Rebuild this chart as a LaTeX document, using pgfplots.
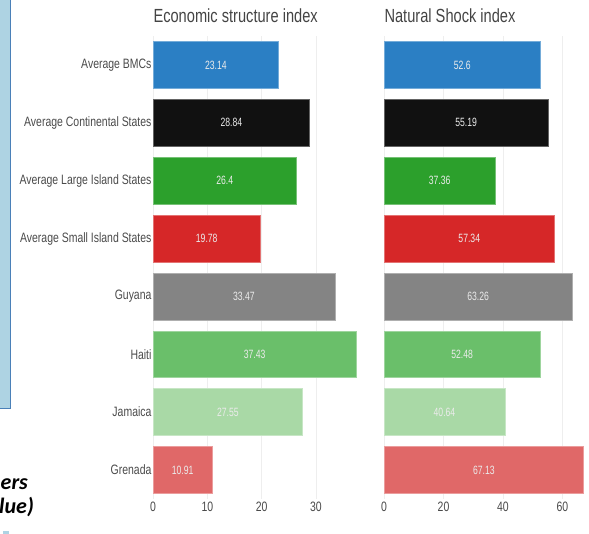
\documentclass[border=0pt]{standalone}
\usepackage{fontspec}
\setmainfont[FakeStretch=0.77]{Liberation Sans}
\newfontfamily\valfont[FakeStretch=0.72]{Liberation Sans}
\newfontfamily\calib{Carlito}
\usepackage{pgfplots}
\usepackage{pgfplotstable}
\pgfplotsset{compat=1.18}
\definecolor{cBlue}{HTML}{2B7FC4}
\definecolor{cBlack}{HTML}{111111}
\definecolor{cGreen}{HTML}{2CA02C}
\definecolor{cRed}{HTML}{D62728}
\definecolor{cGray}{HTML}{848484}
\definecolor{cHaiti}{HTML}{6ABF6A}
\definecolor{cJam}{HTML}{A9D9A6}
\definecolor{cGren}{HTML}{E06868}
\definecolor{gridc}{HTML}{EEEEEE}
\definecolor{labc}{HTML}{4A4A4A}
\definecolor{titc}{HTML}{444444}
\definecolor{boxfill}{HTML}{AED3E3}
\definecolor{boxline}{HTML}{4A80B8}

\pgfplotstableread{
y v
0 23.14
1 28.84
2 26.4
3 19.78
4 33.47
5 37.43
6 27.55
7 10.91
}\econ
\pgfplotstableread{
y v
0 52.6
1 55.19
2 37.36
3 57.34
4 63.26
5 52.48
6 40.64
7 67.13
}\shock

\pgfplotsset{
  myax/.style={
    scale only axis, y dir=reverse, ymin=-0.5, ymax=7.5, height=462.9pt,
    axis line style={draw=none}, major tick length=0pt,
    xmajorgrids, grid style={color=gridc, line width=0.6pt},
    ytick={0,...,7},
    tick label style={font=\fontsize{13.6}{15}\selectfont, text=labc},
    /pgf/number format/assume math mode=true,
    anchor=south west, clip=false,
    title style={font=\fontsize{19}{21}\selectfont, text=titc, anchor=base west, at={(rel axis cs:0,1)}, yshift=8pt, xshift=-3pt},
  },
  bb/.style={xbar, bar shift=0pt, bar width=0.81, fill=#1, draw=#1!65!white, line width=0.6pt},
  vl/.style={draw=none, mark=none, nodes near coords, point meta=explicit symbolic,
    every node near coord/.style={anchor=center, text=white!92!black, font=\valfont\fontsize{12}{13}\selectfont}},
}

\begin{document}
\begin{tikzpicture}[x=1pt,y=1pt]
\useasboundingbox (0,0) rectangle (589,534);
% background slide remnants
\fill[boxfill] (0,125) rectangle (10.5,534);
\draw[boxline, line width=1pt] (10.5,534) -- (10.5,125) -- (0,125);
\fill[boxfill] (3,0) rectangle (9,3);
\node[anchor=base west, inner sep=0pt] at (0.5,44) {\calib\bfseries\itshape\fontsize{22}{24}\selectfont ers};
\node[anchor=base west, inner sep=0pt] at (-1,20) {\calib\bfseries\itshape\fontsize{22}{24}\selectfont lue)};

\begin{axis}[myax, at={(153pt,35.1pt)}, width=211.9pt, xmin=0, xmax=39,
  xtick={0,10,20,30},
  yticklabels={Average BMCs, Average Continental States, Average Large Island States, Average Small Island States, Guyana, Haiti, Jamaica, Grenada},
  yticklabel style={xshift=2pt},
  title={Economic structure index}]
\addplot[bb=cBlue] coordinates {(23.14,0)};
\addplot[bb=cBlack] coordinates {(28.84,1)};
\addplot[bb=cGreen] coordinates {(26.4,2)};
\addplot[bb=cRed] coordinates {(19.78,3)};
\addplot[bb=cGray] coordinates {(33.47,4)};
\addplot[bb=cHaiti] coordinates {(37.43,5)};
\addplot[bb=cJam] coordinates {(27.55,6)};
\addplot[bb=cGren] coordinates {(10.91,7)};
\addplot[vl] table[x expr=\thisrow{v}/2, y=y, meta=v] {\econ};
\end{axis}

\begin{axis}[myax, at={(384pt,35.1pt)}, width=202.3pt, xmin=0, xmax=68,
  xtick={0,20,40,60}, yticklabels=\empty,
  title={Natural Shock index}]
\addplot[bb=cBlue] coordinates {(52.6,0)};
\addplot[bb=cBlack] coordinates {(55.19,1)};
\addplot[bb=cGreen] coordinates {(37.36,2)};
\addplot[bb=cRed] coordinates {(57.34,3)};
\addplot[bb=cGray] coordinates {(63.26,4)};
\addplot[bb=cHaiti] coordinates {(52.48,5)};
\addplot[bb=cJam] coordinates {(40.64,6)};
\addplot[bb=cGren] coordinates {(67.13,7)};
\addplot[vl] table[x expr=\thisrow{v}/2, y=y, meta=v] {\shock};
\end{axis}
\end{tikzpicture}
\end{document}
